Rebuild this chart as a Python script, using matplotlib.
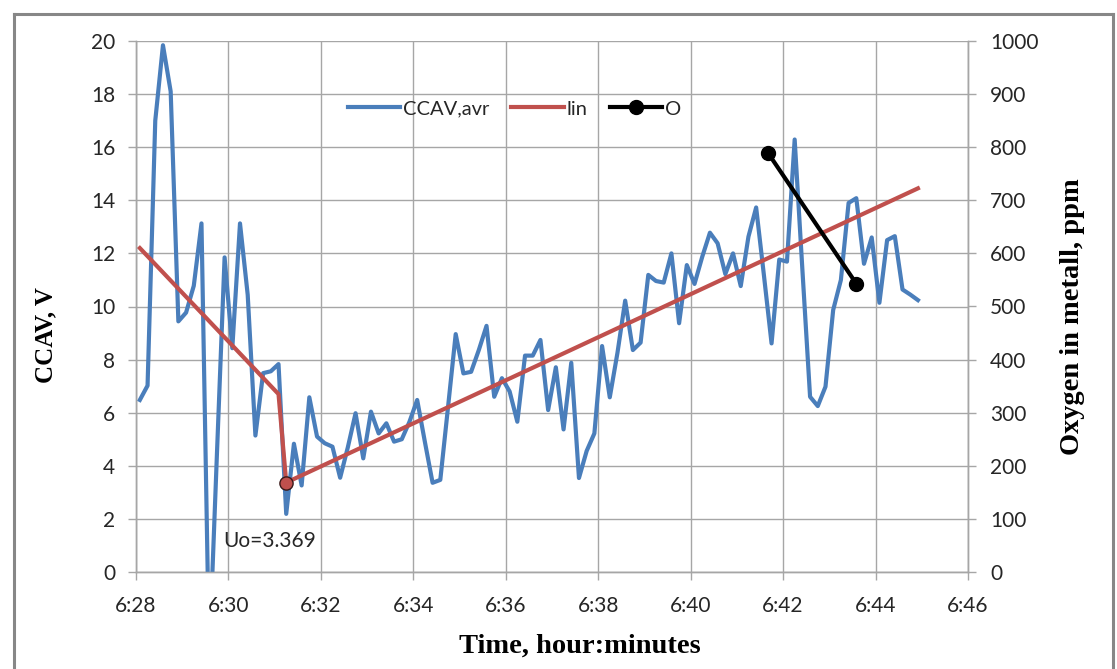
import datetime as dt

import numpy as np
import pandas as pd
import matplotlib
matplotlib.use("Agg")
import matplotlib.pyplot as plt
import matplotlib.dates as mdates
from matplotlib.lines import Line2D

# CCAV, averaged signal, one sample every 10 s from 6:28:05
ccav_start = "2000-01-01 06:28:05"
ccav_step = "10s"
ccav_values = [
    6.48, 7.02, 17.0, 19.84, 18.1, 9.44, 9.77, 10.78, 13.13, -3.2,
    4.4, 11.85, 8.43, 13.13, 10.44, 5.14, 7.49, 7.56, 7.83, 2.19,
    4.83, 3.26, 6.58, 5.1, 4.85, 4.72, 3.55, 4.7, 5.98, 4.28,
    6.04, 5.22, 5.6, 4.91, 5.0, 5.66, 6.48, 4.9, 3.36, 3.47,
    6.2, 8.96, 7.48, 7.54, 8.36, 9.27, 6.6, 7.3, 6.8, 5.66,
    8.15, 8.15, 8.74, 6.1, 7.71, 5.37, 7.88, 3.54, 4.56, 5.22,
    8.51, 6.58, 8.26, 10.22, 8.36, 8.64, 11.19, 10.96, 10.9, 12.0,
    9.37, 11.56, 10.85, 11.87, 12.78, 12.38, 11.22, 12.0, 10.77, 12.63,
    13.73, 11.2, 8.61, 11.77, 11.69, 16.29, 11.4, 6.6, 6.25, 6.98,
    9.87, 11.0, 13.9, 14.08, 11.61, 12.6, 10.14, 12.5, 12.65, 10.64,
    10.45, 10.24,
]

# linear approximation ("lin")
lin_times = ["06:28:05", "06:31:05", "06:31:15", "06:44:55"]
lin_values = [12.2, 6.7, 3.369, 14.45]
uo_time = "06:31:15"
uo_value = 3.369

# oxygen in metal, ppm (right axis)
oxy_times = ["06:41:40", "06:43:35"]
oxy_values = [790, 543]

x_ticks = ["06:28", "06:30", "06:32", "06:34", "06:36", "06:38", "06:40", "06:42", "06:44", "06:46"]

BLUE = "#4A7EBB"
RED = "#C0504D"
GRID = "#A6A6A6"
TXT = "#262626"


def to_time(s):
    return pd.Timestamp("2000-01-01 " + s)


def fmt_time(x, pos=None):
    d = mdates.num2date(x)
    return f"{d.hour}:{d.minute:02d}"


def main():
    tick_font = "Lato"
    label_font = {"family": "Liberation Serif", "weight": "bold", "size": 20.5}

    t_ccav = pd.date_range(ccav_start, periods=len(ccav_values), freq=ccav_step)
    t_lin = [to_time(s) for s in lin_times]
    t_oxy = [to_time(s) for s in oxy_times]

    fig = plt.figure(figsize=(11.17, 6.69), dpi=100)
    ax = fig.add_axes([136 / 1117, 1 - 572 / 669, (968 - 136) / 1117, (572 - 41) / 669])
    ax2 = ax.twinx()

    l1, = ax.plot(t_ccav, ccav_values, color=BLUE, lw=3.0, label="CCAV,avr", zorder=3)
    l2, = ax.plot(t_lin, lin_values, color=RED, lw=3.0, label="lin", zorder=4)
    ax.plot([to_time(uo_time)], [uo_value], "o", ms=9.5, mfc=RED, mec="#3a1a1a",
            mew=1.0, zorder=5)
    ax.annotate("Uo=3.369", xy=(to_time(uo_time), uo_value), xytext=(-45, -42),
                textcoords="offset points", ha="left", va="center",
                fontsize=15, family=tick_font, color=TXT)

    l3, = ax2.plot(t_oxy, oxy_values, color="black", lw=3.0, marker="o", ms=10,
                   label="O", zorder=5)

    ax.set_xlim(to_time(x_ticks[0]), to_time(x_ticks[-1]))
    ax.set_ylim(0, 20)
    ax2.set_ylim(0, 1000)
    ax.set_xticks([to_time(s) for s in x_ticks])
    ax.xaxis.set_major_formatter(plt.FuncFormatter(fmt_time))
    ax.set_yticks(np.arange(0, 21, 2))
    ax2.set_yticks(np.arange(0, 1001, 100))

    ax.grid(True, color=GRID, lw=1.0)
    ax.set_axisbelow(True)
    for a in (ax, ax2):
        for side, sp in a.spines.items():
            sp.set_color(GRID)
            sp.set_linewidth(1.0)
        a.spines["top"].set_visible(False)
        a.tick_params(direction="out", length=6, width=1.0, color=GRID,
                      labelsize=15, labelcolor=TXT)
    ax.tick_params(axis="x", pad=11)
    ax.tick_params(axis="y", pad=9)
    ax2.tick_params(axis="y", pad=10)
    for lab in ax.get_xticklabels() + ax.get_yticklabels() + ax2.get_yticklabels():
        lab.set_family(tick_font)

    ax.set_xlabel("Time, hour:minutes", fontdict=label_font)
    ax.xaxis.set_label_coords(0.534, -0.116)
    ax.set_ylabel("CCAV, V", fontdict=dict(label_font, size=18))
    ax.yaxis.set_label_coords(-0.094, 0.446)
    ax2.set_ylabel("Oxygen in metall, ppm", fontdict=label_font)
    ax2.yaxis.set_label_coords(1.111, 0.48)

    leg = ax2.legend(handles=[l1, l2, l3], loc="center", bbox_to_anchor=(0.455, 0.872),
                     ncol=3, frameon=False, handlelength=2.6, handletextpad=0.15,
                     columnspacing=1.1, prop={"family": tick_font, "size": 14.5})
    for t in leg.get_texts():
        t.set_color(TXT)

    # outer chart frame
    x0, x1, y1 = 13.5 / 1117, 1113 / 1117, 1 - 13.5 / 669
    for xs, ys in (([x0, x0], [-0.1, y1]), ([x0, x1], [y1, y1]), ([x1, x1], [y1, -0.1])):
        fig.add_artist(Line2D(xs, ys, color="#878787", lw=2.2, transform=fig.transFigure))

    fig.savefig("out.png", dpi=100)
    plt.close(fig)


if __name__ == "__main__":
    main()
